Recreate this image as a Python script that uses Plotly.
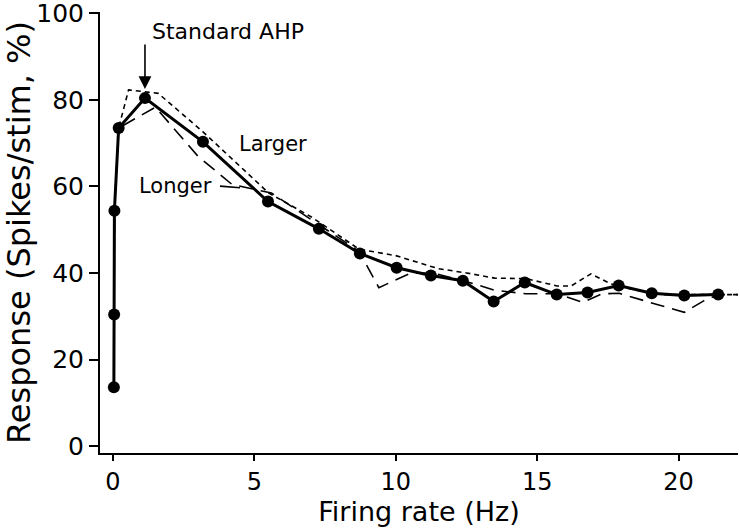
import plotly.graph_objects as go

# Standard AHP (solid with markers)
std_x = [0.03, 0.04, 0.05, 0.2, 1.13, 3.18, 5.48, 7.28, 8.73, 10.03, 11.24, 12.37, 13.46, 14.56, 15.69, 16.78, 17.88, 19.05, 20.2, 21.4]
std_y = [13.6, 30.4, 54.4, 73.5, 80.4, 70.3, 56.5, 50.2, 44.5, 41.2, 39.4, 38.2, 33.4, 37.8, 35.0, 35.5, 37.1, 35.3, 34.8, 35.0]

# Larger AHP (short dashes)
lg_x = [0.03, 0.04, 0.05, 0.2, 0.55, 1.6, 3.2, 5.5, 7.0, 8.7, 10.0, 11.5, 12.5, 13.5, 14.6, 15.7, 16.2, 16.9, 17.6, 18.5, 19.5, 20.5, 21.4, 22.1]
lg_y = [13.6, 30.4, 54.4, 73.5, 82.3, 81.5, 72.5, 58.5, 53.0, 45.5, 44.0, 41.0, 40.0, 38.8, 38.7, 37.0, 37.0, 39.8, 37.5, 36.0, 35.0, 35.0, 35.0, 35.0]

# Longer AHP (long dashes)
ln_x = [0.03, 0.04, 0.05, 0.2, 1.5, 3.0, 4.2, 5.0, 5.6, 7.2, 8.7, 9.4, 10.5, 11.3, 12.4, 13.5, 14.6, 15.7, 16.6, 17.3, 17.9, 19.3, 20.2, 20.9, 21.4, 22.1]
ln_y = [13.6, 30.4, 54.4, 73.5, 78.3, 67.0, 60.5, 59.3, 58.5, 51.5, 45.0, 36.6, 39.9, 40.0, 38.2, 36.0, 35.2, 35.2, 33.2, 35.2, 35.3, 32.6, 30.9, 33.6, 35.0, 35.0]

x_ticks = [0, 5, 10, 15, 20]
y_ticks = [0, 20, 40, 60, 80, 100]

FONT = "DejaVu Sans"

fig = go.Figure()
fig.add_trace(go.Scatter(x=lg_x, y=lg_y, mode="lines",
                         line=dict(color="black", width=1.6, dash="5px,4px"),
                         showlegend=False, hoverinfo="skip"))
fig.add_trace(go.Scatter(x=ln_x, y=ln_y, mode="lines",
                         line=dict(color="black", width=1.6, dash="14px,8px"),
                         showlegend=False, hoverinfo="skip"))
fig.add_trace(go.Scatter(x=std_x, y=std_y, mode="lines+markers",
                         line=dict(color="black", width=3),
                         marker=dict(color="black", size=12),
                         showlegend=False, hoverinfo="skip"))

fig.update_layout(
    width=740, height=530,
    margin=dict(l=100, r=2, t=12, b=77),
    paper_bgcolor="white", plot_bgcolor="white",
    font=dict(family=FONT, color="black"),
    xaxis=dict(range=[-0.46, 22.1], tickvals=x_ticks, ticks="outside", ticklen=6,
               tickwidth=1.5, tickcolor="black", showline=True, linecolor="black",
               linewidth=2, showgrid=False, zeroline=False, automargin=False,
               tickfont=dict(size=24, family=FONT), ticklabeloverflow="allow",
               title=dict(text="Firing rate (Hz)", font=dict(size=27, family=FONT), standoff=2)),
    yaxis=dict(range=[-1.6, 100.3], tickvals=y_ticks, ticks="outside", ticklen=9,
               tickwidth=1.5, tickcolor="black", showline=True, linecolor="black",
               linewidth=2, showgrid=False, zeroline=False, automargin=False,
               tickfont=dict(size=25, family=FONT), ticklabeloverflow="allow",
               title=dict(text="Response (Spikes/stim, %)", font=dict(size=32, family=FONT), standoff=4)),
)

fig.add_annotation(x=1.13, y=82.5, ax=0, ay=-46, text="", showarrow=True,
                   arrowhead=2, arrowsize=1.6, arrowwidth=1.6, arrowcolor="black")
fig.add_annotation(x=1.31, y=95.9, text="Standard AHP", showarrow=False,
                   xanchor="left", yanchor="middle", font=dict(size=22, family=FONT))
fig.add_annotation(x=4.38, y=69.8, text="Larger", showarrow=False,
                   xanchor="left", yanchor="middle", font=dict(size=21, family=FONT))
fig.add_annotation(x=4.49, y=59.7, ax=-26, ay=-2, text="Longer", showarrow=True,
                   arrowhead=0, arrowwidth=1.6, arrowcolor="black", startstandoff=6,
                   xanchor="right", font=dict(size=21, family=FONT))

fig.write_html("out.html", config={"displayModeBar": False},
               post_script="document.body.style.margin='0';")
